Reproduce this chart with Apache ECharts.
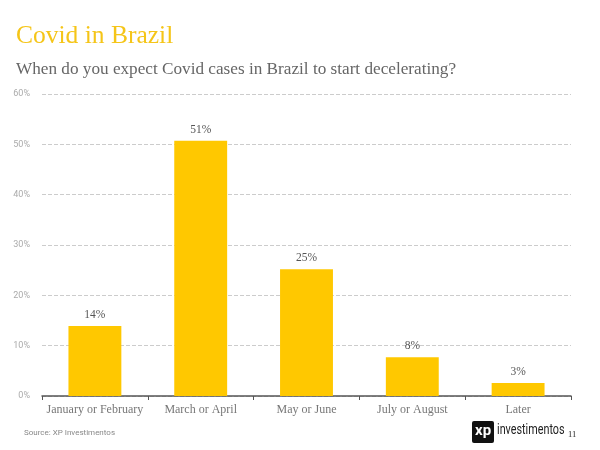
<!DOCTYPE html>
<html><head><meta charset="utf-8">
<script src="https://cdn.jsdelivr.net/npm/echarts@6/dist/echarts.min.js"></script>
<style>html,body{margin:0;padding:0;background:#fff}#c{width:600px;height:450px}</style>
</head><body><div id="c"></div>
<script>
const categories = ['January or February','March or April','May or June','July or August','Later'];
const values = [13.9, 50.7, 25.2, 7.7, 2.6];
const labels = ['14%','51%','25%','8%','3%'];
const yTicks = [0,10,20,30,40,50,60];

const chart = echarts.init(document.getElementById('c'));
const serif = '"Liberation Serif", "DejaVu Serif", serif';
chart.setOption({
  animation:false,
  backgroundColor:'#fff',
  title:[
    {text:'Covid in Brazil', left:11, top:18, textStyle:{fontFamily:serif, fontWeight:'normal', fontSize:25.5, color:'#F5C518'}},
    {text:'When do you expect Covid cases in Brazil to start decelerating?', left:11, top:56, textStyle:{fontFamily:serif, fontWeight:'normal', fontSize:17.2, color:'#666'}}
  ],
  grid:{left:42, right:29, top:94, bottom:54},
  xAxis:{type:'category', data:categories,
    axisLine:{lineStyle:{color:'#555', width:1.5}},
    axisTick:{show:true, lineStyle:{color:'#555'}, length:4},
    axisLabel:{interval:0, fontFamily:serif, fontSize:12, color:'#777', margin:8}},
  yAxis:{type:'value', min:0, max:60, interval:10,
    axisLabel:{formatter:v=>yTicks.includes(v)?v+'%':'', fontFamily:'Roboto, sans-serif', fontSize:9, color:'#aaa', margin:12},
    splitLine:{lineStyle:{type:'dashed', color:'#ccc'}},
    axisLine:{show:false}, axisTick:{show:false}},
  series:[{type:'bar', data:values, barWidth:'50%', itemStyle:{color:'#FFC800'},
    label:{show:true, position:'top', formatter:p=>labels[p.dataIndex], fontFamily:serif, fontSize:11.5, color:'#555', distance:5}}],
  graphic:[
    {type:'text', left:24, top:429, style:{text:'Source: XP Investimentos', fontFamily:'Roboto, sans-serif', fontSize:8, fill:'#888'}},
    {type:'rect', shape:{x:472, y:421, width:22, height:22, r:2}, style:{fill:'#111'}},
    {type:'text', x:475, y:424, style:{text:'xp', fontFamily:'Roboto, sans-serif', fontWeight:'bold', fontSize:15, fill:'#fff'}},
    {type:'text', x:497, y:423, scaleX:0.72, style:{text:'investimentos', fontFamily:'Roboto, sans-serif', fontSize:15, fill:'#222'}},
    {type:'text', x:568, y:430, style:{text:'11', fontFamily:serif, fontSize:8.5, fill:'#222'}}
  ]
});
</script></body></html>
